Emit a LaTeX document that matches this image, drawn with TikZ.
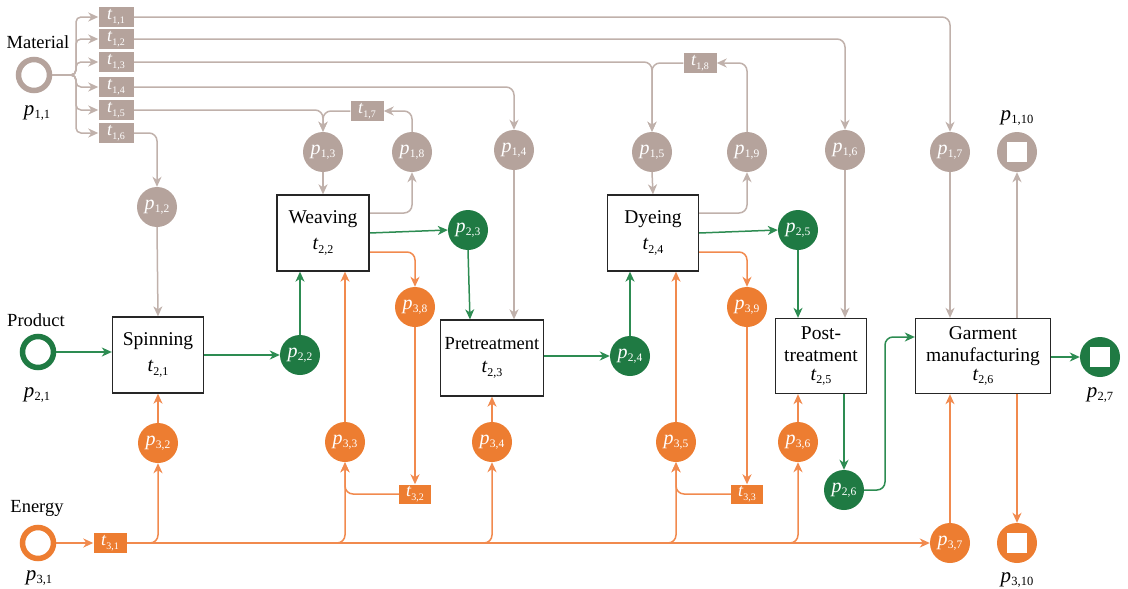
\documentclass[tikz,border=0pt]{standalone}
\usepackage{fontspec}
\setmainfont{Liberation Serif}
\usetikzlibrary{arrows.meta,backgrounds}
\definecolor{gr}{RGB}{181,163,156}
\definecolor{grl}{RGB}{192,177,171}
\definecolor{gn}{RGB}{31,122,67}
\definecolor{gnl}{RGB}{45,140,82}
\definecolor{og}{RGB}{237,125,49}
\definecolor{ogl}{RGB}{241,138,78}
\newcommand{\pin}[2]{{\fontsize{20}{20}\selectfont\itshape p}\kern0.3pt\raisebox{-3.5pt}{\fontsize{11.5}{11.5}\selectfont #1,#2}}
\newcommand{\pout}[2]{{\fontsize{21}{21}\selectfont\itshape p}\kern0.3pt\raisebox{-3.5pt}{\fontsize{12.5}{12.5}\selectfont #1,#2}}
\newcommand{\tsm}[2]{{\fontsize{18}{18}\selectfont\itshape t}\kern0.3pt\raisebox{-3.5pt}{\fontsize{10}{10}\selectfont #1,#2}}
\newcommand{\tbg}[2]{{\fontsize{20}{20}\selectfont\itshape t}\kern0.3pt\raisebox{-3.5pt}{\fontsize{12}{12}\selectfont #1,#2}}
\tikzset{
  place/.style={circle, minimum size=40pt, inner sep=0pt, text=white},
  gp/.style={place, fill=gr},
  gnp/.style={place, fill=gn},
  op/.style={place, fill=og},
  endsq/.style={path picture={\fill[white] ([shift={(-10pt,-10pt)}]path picture bounding box.center) rectangle ([shift={(10pt,10pt)}]path picture bounding box.center);}},
  ring/.style={circle, minimum size=31pt, inner sep=0pt, line width=5.5pt, fill=white},
  tbox/.style={rectangle, minimum width=35pt, minimum height=20pt, inner sep=0pt, text=white},
  trans/.style={draw=black!85, line width=1.3pt, fill=white, minimum width=91pt, minimum height=76pt, inner sep=2pt, align=center, font=\fontsize{19.5}{23}\selectfont},
  lab/.style={font=\fontsize{18.5}{20}\selectfont, inner sep=0pt},
  arr/.style={-{Stealth[length=10pt,width=9pt,inset=3pt]}, line width=1.5pt, rounded corners=8pt},
  ga/.style={arr, draw=grl},
  gna/.style={arr, draw=gnl},
  oa/.style={arr, draw=ogl},
}
\begin{document}
\begin{tikzpicture}[x=1pt,y=-1pt]
\useasboundingbox (0,0) rectangle (1128,589);
% source places
\node[ring, draw=gr] (p11) at (34,75) {};
\node[lab] (lmat) at (38,42) {Material};
\node[inner sep=0pt] (lp11) at (37,113) {\pout{1}{1}};
\node[ring, draw=gn] (p21) at (38,352) {};
\node[lab] (lprod) at (36,320) {Product};
\node[inner sep=0pt] (lp21) at (37,395) {\pout{2}{1}};
\node[ring, draw=og] (p31) at (38,543) {};
\node[lab] (lener) at (37,508) {Energy};
\node[inner sep=0pt] (lp31) at (39,578) {\pout{3}{1}};
% material transitions
\node[tbox, fill=gr] (t11) at (116,17) {\tsm{1}{1}};
\node[tbox, fill=gr] (t12) at (116,39) {\tsm{1}{2}};
\node[tbox, fill=gr] (t13) at (116,62) {\tsm{1}{3}};
\node[tbox, fill=gr] (t14) at (116,87) {\tsm{1}{4}};
\node[tbox, fill=gr] (t15) at (116,110) {\tsm{1}{5}};
\node[tbox, fill=gr] (t16) at (116,133) {\tsm{1}{6}};
\node[tbox, fill=gr, minimum width=33pt] (t17) at (367,111) {\tsm{1}{7}};
\node[tbox, fill=gr, minimum width=33pt] (t18) at (700,63) {\tsm{1}{8}};
% material places
\node[gp] (p12) at (157,207) {\pin{1}{2}};
\node[gp] (p13) at (323,152) {\pin{1}{3}};
\node[gp] (p18) at (412,152) {\pin{1}{8}};
\node[gp] (p14) at (514,150) {\pin{1}{4}};
\node[gp] (p15) at (652,152) {\pin{1}{5}};
\node[gp] (p19) at (747,152) {\pin{1}{9}};
\node[gp] (p16) at (845,150) {\pin{1}{6}};
\node[gp] (p17) at (950,152) {\pin{1}{7}};
\node[gp, endsq] (p110) at (1017,152) {};
\node[inner sep=0pt] (lp110) at (1017,118) {\pout{1}{10}};
% process transitions
\node[trans] (spin) at (158,355) {Spinning\\[3pt]\tbg{2}{1}};
\node[trans, minimum width=92pt] (weav) at (323,233) {Weaving\\[3pt]\tbg{2}{2}};
\node[trans, minimum width=103pt, font=\fontsize{18.5}{22}\selectfont] (pre) at (492,358) {Pretreatment\\[1pt]\tbg{2}{3}};
\node[trans] (dye) at (653,233) {Dyeing\\[3pt]\tbg{2}{4}};
\node[trans, minimum height=75pt, font=\fontsize{19.5}{22}\selectfont] (post) at (821,356) {Post-\\treatment\\[-3pt]\tbg{2}{5}};
\node[trans, minimum width=135pt, minimum height=75pt, font=\fontsize{19.5}{22}\selectfont] (garm) at (983,356) {Garment\\manufacturing\\[-3pt]\tbg{2}{6}};
% product places
\node[gnp] (p22) at (300,355) {\pin{2}{2}};
\node[gnp] (p23) at (468,230) {\pin{2}{3}};
\node[gnp] (p24) at (630,356) {\pin{2}{4}};
\node[gnp] (p25) at (798,230) {\pin{2}{5}};
\node[gnp] (p26) at (844,490) {\pin{2}{6}};
\node[gnp, endsq] (p27) at (1100,357) {};
\node[inner sep=0pt] (lp27) at (1100,395) {\pout{2}{7}};
% energy
\node[tbox, fill=og, minimum width=33pt] (t31) at (110,543) {\tsm{3}{1}};
\node[tbox, fill=og, minimum width=32pt, minimum height=19pt] (t32) at (415,494) {\tsm{3}{2}};
\node[tbox, fill=og, minimum width=32pt, minimum height=19pt] (t33) at (747,494) {\tsm{3}{3}};
\node[op] (p32) at (158,443) {\pin{3}{2}};
\node[op] (p33) at (345,442) {\pin{3}{3}};
\node[op] (p34) at (492,442) {\pin{3}{4}};
\node[op] (p35) at (676,442) {\pin{3}{5}};
\node[op] (p36) at (798,442) {\pin{3}{6}};
\node[op] (p37) at (950,543) {\pin{3}{7}};
\node[op] (p38) at (415,307) {\pin{3}{8}};
\node[op] (p39) at (747,307) {\pin{3}{9}};
\node[op, endsq] (p310) at (1017,543) {};
\node[inner sep=0pt] (lp310) at (1017,580) {\pout{3}{10}};
\coordinate (trk) at (76,75);
\coordinate (gbend) at (885,337);
\begin{scope}[on background layer]
% material
\foreach \k in {1,...,6} \draw[ga, rounded corners=5pt] (p11.east) -- (trk) |- (t1\k.west);
\draw[ga] (t11.east) -| (p17.north);
\draw[ga] (t12.east) -| (p16.north);
\draw[ga] (t13.east) -| (p15.north);
\draw[ga] (t14.east) -| (p14.north);
\draw[ga] (t15.east) -| (p13.north);
\draw[ga] (t16.east) -| (p12.north);
\draw[ga] (p12.south) -- (spin.north);
\draw[ga] (p13.south) -- (weav.north);
\draw[ga] (p14.south) -- (p14.south |- pre.north);
\draw[ga] ([yshift=20pt]weav.east) -| (p18.south);
\draw[ga] (p18.north) |- (t17.east);
\draw[ga] (t17.west) -| (p13.north);
\draw[ga] (p15.south) -- (dye.north);
\draw[ga] ([yshift=20pt]dye.east) -| (p19.south);
\draw[ga] (p19.north) |- (t18.east);
\draw[ga] (t18.west) -| (p15.north);
\draw[ga] (p16.south) -- (p16.south |- post.north);
\draw[ga] (p17.south) -- (p17.south |- garm.north);
\draw[ga] (p110.south |- garm.north) -- (p110.south);
% product
\draw[gna] (p21.east) -- (spin.west |- p21.east);
\draw[gna] (spin.east |- p22.west) -- (p22.west);
\draw[gna] (p22.north) -- (p22.north |- weav.south);
\draw[gna] (weav.east) -- (p23.west);
\draw[gna] (p23.south) -- ([xshift=2pt]p23.south |- pre.north);
\draw[gna] (pre.east |- p24.west) -- (p24.west);
\draw[gna] (p24.north) -- (p24.north |- dye.south);
\draw[gna] (dye.east) -- (p25.west);
\draw[gna] (p25.south) -- (p25.south |- post.north);
\draw[gna] (p26.north |- post.south) -- (p26.north);
\draw[gna] (p26.east) -| (gbend) -- (gbend -| garm.west);
\draw[gna] (garm.east |- p27.west) -- (p27.west);
% energy
\draw[oa] (p31.east) -- (t31.west);
\draw[oa] (t31.east) -- (p37.west);
\draw[oa] (t31.east) -| (p32.south);
\draw[oa] (t31.east) -| (p33.south);
\draw[oa] (t31.east) -| (p34.south);
\draw[oa] (t31.east) -| (p35.south);
\draw[oa] (t31.east) -| (p36.south);
\draw[oa] (p32.north) -- (spin.south);
\draw[oa] (p33.north) -- (p33.north |- weav.south);
\draw[oa] ([yshift=-19pt]weav.east) -| (p38.north);
\draw[oa] (p38.south) -- (t32.north);
\draw[oa] (t32.west) -| (p33.south);
\draw[oa] (p34.north) -- (pre.south);
\draw[oa] (p35.north) -- (p35.north |- dye.south);
\draw[oa] ([yshift=-19pt]dye.east) -| (p39.north);
\draw[oa] (p39.south) -- (t33.north);
\draw[oa] (t33.west) -| (p35.south);
\draw[oa] (p36.north) -- (p36.north |- post.south);
\draw[oa] (p37.north) -- (p37.north |- garm.south);
\draw[oa] (p310.north |- garm.south) -- (p310.north);
\end{scope}
\end{tikzpicture}
\end{document}
